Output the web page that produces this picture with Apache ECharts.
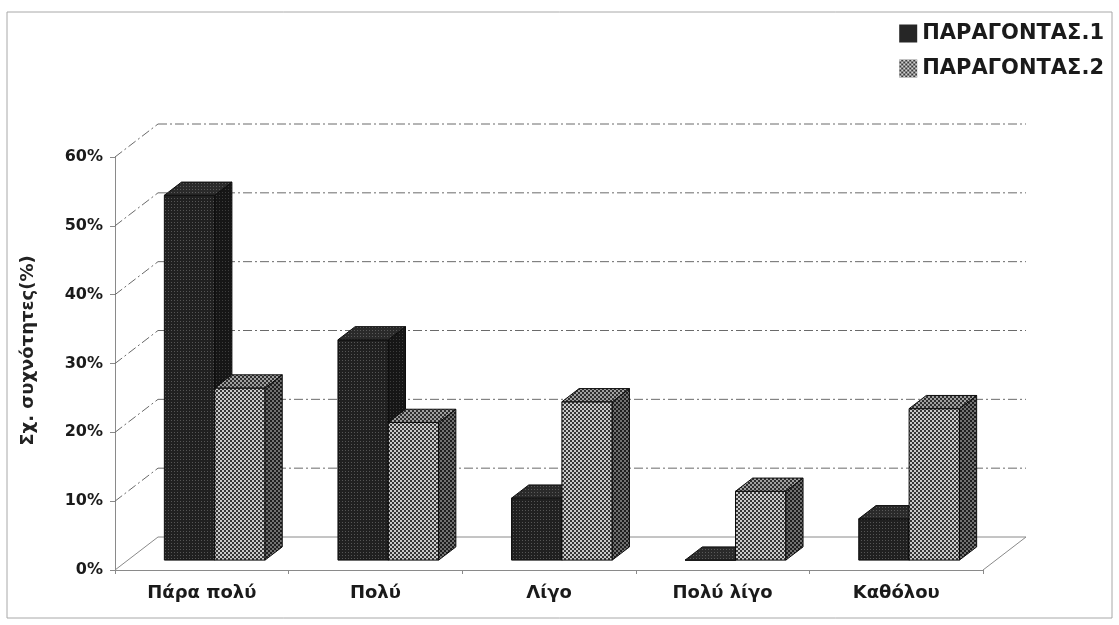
<!DOCTYPE html>
<html>
<head>
<meta charset="utf-8">
<script src="https://cdn.jsdelivr.net/npm/echarts@6/dist/echarts.min.js"></script>
<style>
html,body{margin:0;padding:0;background:#fff;}
#chart{width:1119px;height:625px;}
</style>
</head>
<body>
<div id="chart"></div>
<script>
// ---- data ----
const categories = ['Πάρα πολύ', 'Πολύ', 'Λίγο', 'Πολύ λίγο', 'Καθόλου'];
const seriesNames = ['ΠΑΡΑΓΟΝΤΑΣ.1', 'ΠΑΡΑΓΟΝΤΑΣ.2'];
const factor1 = [53, 32, 9, 0, 6];
const factor2 = [25, 20, 23, 10, 22];
const yTicks = [0, 10, 20, 30, 40, 50, 60];
const yTitle = 'Σχ. συχνότητες(%)';

// ---- 3D look (style only) ----
const DX = 43, DY = -33;        // depth of the floor / walls
const BAR_FRONT = 0.30;         // depth fraction where bar fronts sit
const BAR_DEPTH = 0.40;         // bar depth fraction
const BAR_W = 0.29;             // bar width as fraction of band

function makePattern(bg, dot, size, checker) {
  const c = document.createElement('canvas');
  c.width = size; c.height = size;
  const ctx = c.getContext('2d');
  ctx.fillStyle = bg; ctx.fillRect(0, 0, size, size);
  ctx.fillStyle = dot;
  if (checker) {
    const h = size / 2;
    ctx.fillRect(0, 0, h, h); ctx.fillRect(h, h, h, h);
  } else {
    ctx.fillRect(0, 0, 1, 1);
  }
  return { image: c, repeat: 'repeat' };
}

const styles = [
  {
    front: makePattern('#202020', '#555555', 3, false),
    top: makePattern('#2a2a2a', '#5a5a5a', 3, false),
    side: makePattern('#161616', '#3c3c3c', 3, false),
    legend: '#262626'
  },
  {
    front: makePattern('#383838', '#cccccc', 4, true),
    top: makePattern('#2e2e2e', '#a0a0a0', 4, true),
    side: makePattern('#1e1e1e', '#727272', 4, true),
    legend: makePattern('#3a3a3a', '#d2d2d2', 4, true)
  }
];

const chart = echarts.init(document.getElementById('chart'), null, { renderer: 'canvas' });

function wallsRender(params, api) {
  const v = api.value(0);
  const cs = params.coordSys;
  const y = api.coord([0, v])[1];
  const x0 = cs.x, x1 = cs.x + cs.width;
  const solid = v === 0;
  const ls = {
    stroke: solid ? '#8a8a8a' : '#6a6a6a',
    lineWidth: 1,
    lineDash: solid ? null : [9, 3, 2, 3]
  };
  const children = [
    { type: 'line', shape: { x1: x0, y1: y, x2: x0 + DX, y2: y + DY }, style: ls },
    { type: 'line', shape: { x1: x0 + DX, y1: y + DY, x2: x1 + DX, y2: y + DY }, style: ls }
  ];
  if (solid) {
    children.push({ type: 'line', shape: { x1: x1, y1: y, x2: x1 + DX, y2: y + DY }, style: ls });
  }
  return { type: 'group', children: children };
}

function makeBarRender(sIdx) {
  return function (params, api) {
    const i = api.value(0);
    const v = api.value(1);
    const top = api.coord([i, v]);
    const base = api.coord([i, 0]);
    const band = api.size([1, 0])[0];
    const bw = band * BAR_W;
    const ox = DX * BAR_FRONT, oy = DY * BAR_FRONT;
    const dx = DX * BAR_DEPTH, dy = DY * BAR_DEPTH;
    const xl = top[0] + (sIdx === 0 ? -bw : 0) + ox;
    const xr = xl + bw;
    const yt = top[1] + oy;
    const yb = base[1] + oy;
    const st = styles[sIdx];
    const stroke = '#0d0d0d';
    return {
      type: 'group',
      children: [
        { type: 'polygon', shape: { points: [[xl, yb], [xr, yb], [xr, yt], [xl, yt]] },
          style: { fill: st.front, stroke: stroke, lineWidth: 1 } },
        { type: 'polygon', shape: { points: [[xr, yb], [xr + dx, yb + dy], [xr + dx, yt + dy], [xr, yt]] },
          style: { fill: st.side, stroke: stroke, lineWidth: 1 } },
        { type: 'polygon', shape: { points: [[xl, yt], [xr, yt], [xr + dx, yt + dy], [xl + dx, yt + dy]] },
          style: { fill: st.top, stroke: stroke, lineWidth: 1 } }
      ]
    };
  };
}

const font = '"DejaVu Sans", sans-serif';

chart.setOption({
  animation: false,
  backgroundColor: '#ffffff',
  textStyle: { fontFamily: font },
  graphic: [
    { type: 'rect', shape: { x: 7, y: 12, width: 1105, height: 606 },
      style: { fill: 'none', stroke: '#a8a8a8', lineWidth: 1 }, silent: true, z: -10 }
  ],
  legend: {
    orient: 'vertical',
    right: 10,
    top: 18,
    itemWidth: 18,
    itemHeight: 18,
    itemGap: 14,
    textStyle: { fontFamily: font, fontWeight: 'bold', fontSize: 21, color: '#1a1a1a' },
    data: [
      { name: seriesNames[0], icon: 'rect', itemStyle: { color: styles[0].legend } },
      { name: seriesNames[1], icon: 'rect', itemStyle: { color: styles[1].legend } }
    ]
  },
  grid: { left: 115, right: 136, top: 157, bottom: 55, containLabel: false },
  xAxis: {
    type: 'category',
    data: categories,
    boundaryGap: true,
    axisLine: { lineStyle: { color: '#8a8a8a', width: 1 } },
    axisTick: { show: true, length: 4, lineStyle: { color: '#8a8a8a' } },
    axisLabel: { margin: 14, fontFamily: font, fontWeight: 'bold', fontSize: 18, color: '#1a1a1a' },
    splitLine: { show: false }
  },
  yAxis: {
    type: 'value',
    min: 0,
    max: 60,
    interval: 10,
    name: yTitle,
    nameLocation: 'middle',
    nameRotate: 90,
    nameGap: 78,
    nameTextStyle: { fontFamily: font, fontWeight: 'bold', fontSize: 18, color: '#222', padding: [0, 0, 0, 26] },
    axisLine: { show: true, lineStyle: { color: '#8a8a8a', width: 1 } },
    axisTick: { show: true, length: 5, lineStyle: { color: '#8a8a8a' } },
    axisLabel: { margin: 12, formatter: '{value}%', fontFamily: font, fontWeight: 'bold', fontSize: 16, color: '#1a1a1a' },
    splitLine: { show: false }
  },
  series: [
    {
      type: 'custom',
      name: 'walls',
      renderItem: wallsRender,
      data: yTicks.map(v => [v]),
      encode: { y: 0 },
      silent: true,
      z: 1
    },
    {
      type: 'custom',
      name: seriesNames[0],
      renderItem: makeBarRender(0),
      data: factor1.map((v, i) => [i, v]),
      encode: { x: 0, y: 1 },
      itemStyle: { color: styles[0].legend },
      z: 2
    },
    {
      type: 'custom',
      name: seriesNames[1],
      renderItem: makeBarRender(1),
      data: factor2.map((v, i) => [i, v]),
      encode: { x: 0, y: 1 },
      itemStyle: { color: styles[1].legend },
      z: 3
    }
  ]
});
</script>
</body>
</html>
